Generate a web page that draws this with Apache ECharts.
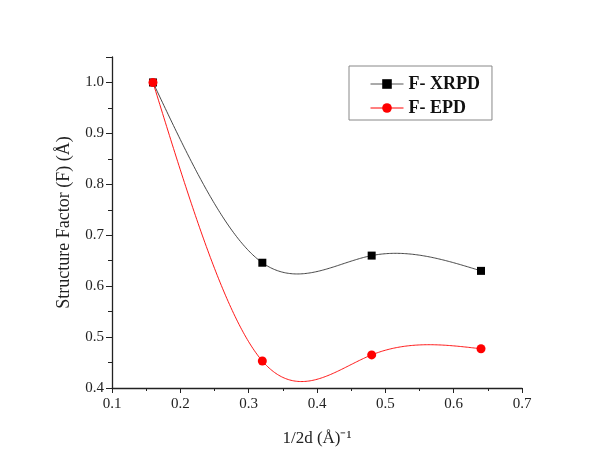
<!DOCTYPE html>
<html><head><meta charset="utf-8">
<script src="https://cdn.jsdelivr.net/npm/echarts@6/dist/echarts.min.js"></script>
<style>html,body{margin:0;padding:0;background:#fff}#c{width:597px;height:461px}</style>
</head><body><div id="c"></div>
<script>
const xValues = [0.16, 0.32, 0.48, 0.64];
const xrpd = [1.0, 0.646, 0.660, 0.630];
const epd = [1.0, 0.453, 0.465, 0.477];
const seriesNames = ['F- XRPD', 'F- EPD'];

// natural cubic spline through the data points (used only as the line style)
function splineCurve(xs, ys, stepsPerSeg) {
  const n = xs.length, h = [], M = new Array(n).fill(0);
  for (let i = 0; i < n - 1; i++) h.push(xs[i + 1] - xs[i]);
  const a = [], b = [], c = [], d = [];
  for (let i = 1; i < n - 1; i++) {
    a.push(h[i - 1]); b.push(2 * (h[i - 1] + h[i])); c.push(h[i]);
    d.push(6 * ((ys[i + 1] - ys[i]) / h[i] - (ys[i] - ys[i - 1]) / h[i - 1]));
  }
  const m = d.length;
  for (let i = 1; i < m; i++) {
    const w = a[i] / b[i - 1];
    b[i] -= w * c[i - 1]; d[i] -= w * d[i - 1];
  }
  const sol = new Array(m);
  for (let i = m - 1; i >= 0; i--) sol[i] = (d[i] - (i < m - 1 ? c[i] * sol[i + 1] : 0)) / b[i];
  for (let i = 0; i < m; i++) M[i + 1] = sol[i];
  const out = [];
  for (let i = 0; i < n - 1; i++) {
    for (let s = 0; s <= stepsPerSeg; s++) {
      if (i > 0 && s === 0) continue;
      const x = xs[i] + h[i] * s / stepsPerSeg;
      const A = xs[i + 1] - x, B = x - xs[i];
      const y = M[i] * A * A * A / (6 * h[i]) + M[i + 1] * B * B * B / (6 * h[i])
        + (ys[i] - M[i] * h[i] * h[i] / 6) * A / h[i]
        + (ys[i + 1] - M[i + 1] * h[i] * h[i] / 6) * B / h[i];
      out.push([x, y]);
    }
  }
  return out;
}

function curveSeries(ys, color) {
  return {
    type: 'custom', silent: true, z: 1,
    data: [0],
    renderItem: function (params, api) {
      const pts = splineCurve(xValues, ys, 80).map(p => api.coord(p));
      return { type: 'polyline', shape: { points: pts },
        style: { stroke: color, lineWidth: 0.9, fill: null } };
    }
  };
}

const font = 'Liberation Serif';
const chart = echarts.init(document.getElementById('c'));
chart.setOption({
  animation: false,
  backgroundColor: '#fff',
  grid: { left: 112, right: 75, top: 57, bottom: 73 },
  legend: {
    orient: 'vertical', left: 349, top: 66,
    padding: [9, 12, 3, 21],
    itemWidth: 33, itemHeight: 12, itemGap: 6,
    borderColor: '#888', borderWidth: 1,
    textStyle: { fontFamily: font, fontWeight: 'bold', fontSize: 18, color: '#111' },
    data: [
      { name: seriesNames[0], lineStyle: { opacity: 1, color: '#555', width: 1 } },
      { name: seriesNames[1], lineStyle: { opacity: 1, color: '#f00', width: 1 } }
    ]
  },
  xAxis: {
    type: 'value', min: 0.1, max: 0.7, interval: 0.1,
    name: '1/2d (Å)⁻¹', nameLocation: 'middle', nameGap: 42,
    nameTextStyle: { fontFamily: font, fontSize: 17, color: '#222' },
    axisLine: { show: true, onZero: false, lineStyle: { color: '#222', width: 1.3 } },
    axisTick: { show: true, inside: false, length: 5, lineStyle: { color: '#222' } },
    minorTick: { show: true, splitNumber: 2, length: 3, lineStyle: { color: '#222' } },
    axisLabel: { fontFamily: font, fontSize: 15, color: '#222', margin: 9,
      formatter: v => v.toFixed(1) },
    splitLine: { show: false }
  },
  yAxis: {
    type: 'value', min: 0.4, max: 1.05, interval: 0.1,
    name: 'Structure Factor (F) (Å)', nameLocation: 'middle', nameGap: 39,
    nameTextStyle: { fontFamily: font, fontSize: 18, color: '#222' },
    axisLine: { show: true, onZero: false, lineStyle: { color: '#222', width: 1.3 } },
    axisTick: { show: true, inside: false, length: 6, lineStyle: { color: '#222' } },
    minorTick: { show: true, splitNumber: 2, length: 4, lineStyle: { color: '#222' } },
    axisLabel: { fontFamily: font, fontSize: 15, color: '#222', margin: 8,
      formatter: v => v > 1.01 ? '' : v.toFixed(1) },
    splitLine: { show: false }
  },
  series: [
    curveSeries(xrpd, '#333'),
    curveSeries(epd, '#f00'),
    {
      name: seriesNames[0], type: 'line', z: 3,
      data: xValues.map((x, i) => [x, xrpd[i]]),
      symbol: 'rect', symbolSize: 8,
      itemStyle: { color: '#000' },
      lineStyle: { color: '#555', width: 1, opacity: 0 }
    },
    {
      name: seriesNames[1], type: 'line', z: 3,
      data: xValues.map((x, i) => [x, epd[i]]),
      symbol: 'circle', symbolSize: 9,
      itemStyle: { color: '#f00' },
      lineStyle: { color: '#f00', width: 1, opacity: 0 }
    }
  ]
});
</script></body></html>
